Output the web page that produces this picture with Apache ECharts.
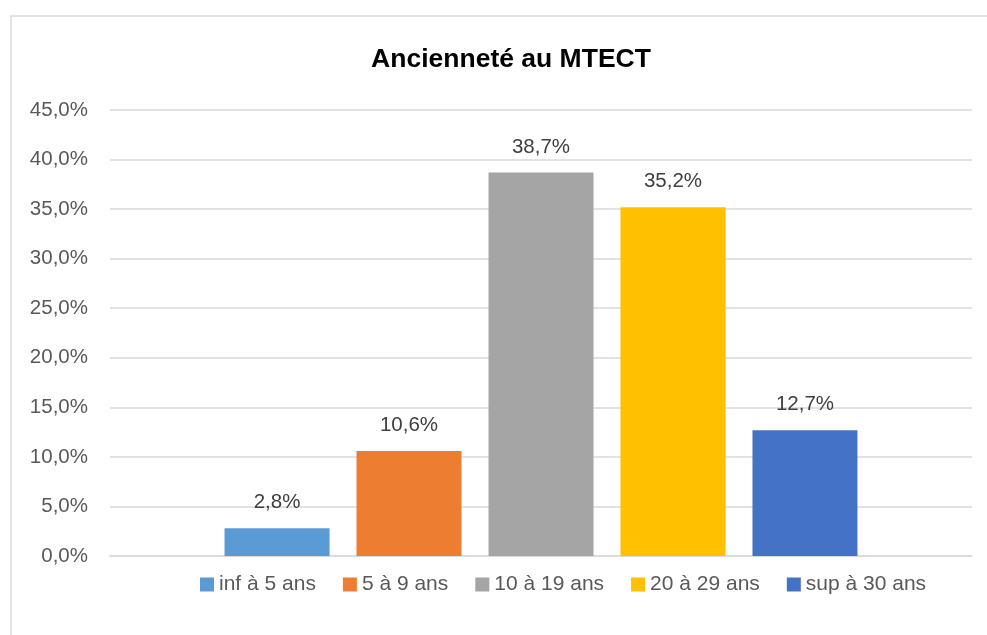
<!DOCTYPE html>
<html><head><meta charset="utf-8">
<script src="https://cdn.jsdelivr.net/npm/echarts@6/dist/echarts.min.js"></script>
<style>html,body{margin:0;padding:0;background:#fff}#c{width:987px;height:635px}</style>
</head><body><div id="c"></div>
<script>
const titleText = 'Ancienneté au MTECT';
const seriesNames = ['inf à 5 ans', '5 à 9 ans', '10 à 19 ans', '20 à 29 ans', 'sup à 30 ans'];
const seriesValues = [2.8, 10.6, 38.7, 35.2, 12.7];
const seriesColors = ['#5B9BD5', '#ED7D31', '#A5A5A5', '#FFC000', '#4472C4'];
const yMin = 0, yMax = 45, yStep = 5;

const fmt = v => v.toFixed(1).replace('.', ',') + '%';
const font = 'Liberation Sans';
const chart = echarts.init(document.getElementById('c'));
chart.setOption({
  animation: false,
  textStyle: { fontFamily: font },
  graphic: [{ type: 'rect', shape: { x: 11, y: 16, width: 1000, height: 700 }, style: { fill: 'none', stroke: '#d9d9d9', lineWidth: 1.5 }, silent: true }],
  title: { text: titleText, left: 506, textAlign: 'center', top: 41, textStyle: { fontFamily: font, fontSize: 26.5, fontWeight: 'bold', color: '#000' } },
  legend: { left: 195, top: 569, itemWidth: 14, itemHeight: 14, itemGap: 27, icon: 'rect', textStyle: { fontFamily: font, fontSize: 21, color: '#595959' }, data: seriesNames },
  grid: { left: 110, right: 15, top: 110, bottom: 79, containLabel: false },
  xAxis: { type: 'category', data: [''], axisLabel: { show: false }, axisTick: { show: false }, axisLine: { lineStyle: { color: '#d9d9d9', width: 1.5 } } },
  yAxis: { type: 'value', min: yMin, max: yMax, interval: yStep,
    axisLabel: { formatter: fmt, fontFamily: font, fontSize: 20.5, color: '#595959', margin: 22 },
    splitLine: { lineStyle: { color: '#d9d9d9', width: 1.5 } }, axisLine: { show: false }, axisTick: { show: false } },
  series: seriesNames.map((n, i) => ({
    name: n, type: 'bar', data: [seriesValues[i]], barWidth: 105, barGap: '25.7%',
    itemStyle: { color: seriesColors[i] },
    label: { show: true, position: 'top', distance: 15, formatter: p => fmt(p.value), fontFamily: font, fontSize: 20.5, color: '#404040' }
  }))
});
</script></body></html>
